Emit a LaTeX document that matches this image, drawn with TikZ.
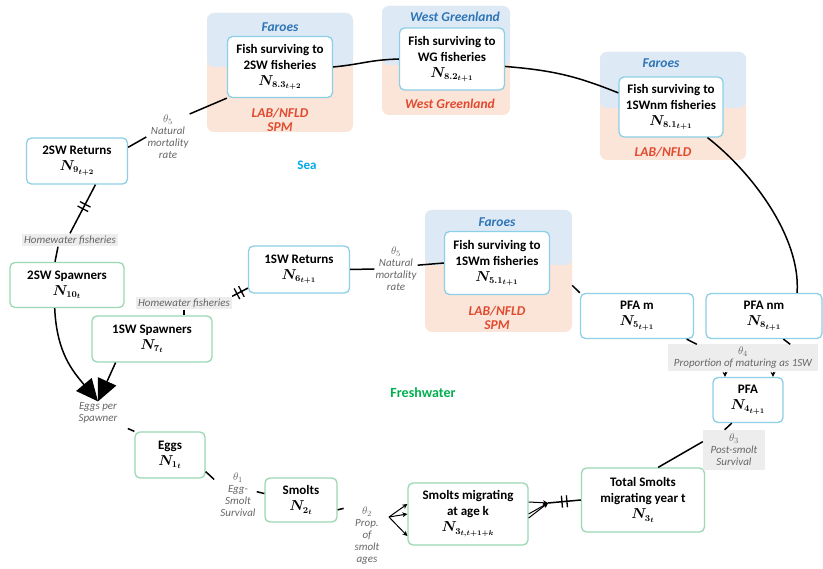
\documentclass[tikz,border=0pt]{standalone}
\usepackage{fontspec}
\setmainfont{Carlito}
\usetikzlibrary{arrows.meta,decorations.markings}
\definecolor{seaedge}{HTML}{8CCFE6}
\definecolor{freshedge}{HTML}{9AD8B4}
\definecolor{seablue}{HTML}{DDEAF6}
\definecolor{seaorange}{HTML}{FBE5D9}
\definecolor{farblue}{HTML}{2E75B6}
\definecolor{labred}{HTML}{E04B2F}
\definecolor{seacyan}{HTML}{00A9E8}
\definecolor{freshgreen}{HTML}{00B050}
\definecolor{tagfill}{HTML}{EDEDED}
\newcommand\popN[1]{{\fontsize{13.5}{15}\selectfont\boldmath$N_{#1}$}}

\begin{document}
\begin{tikzpicture}[x=1pt, y=-1pt,
  box/.style={rounded corners=5pt, draw, line width=1.3pt, fill=white, align=center, inner sep=2pt,
    font=\bfseries\fontsize{13}{16}\selectfont},
  seabox/.style={box, draw=seaedge},
  freshbox/.style={box, draw=freshedge},
  panel/.style={rounded corners=7pt, fill=seaorange,
    path picture={\fill[seablue] (path picture bounding box.north west) rectangle ([yshift=#1]path picture bounding box.east);}},
  farlab/.style={text=farblue, font=\bfseries\itshape\fontsize{13.5}{14}\selectfont},
  lablab/.style={text=labred, align=center, font=\bfseries\itshape\fontsize{13.5}{14}\selectfont},
  rate/.style={text=black!60, align=center, inner sep=1pt, font=\itshape\fontsize{11}{12}\selectfont},
  greytag/.style={rate, fill=tagfill, inner sep=2pt},
  link/.style={line width=1.5pt},
  fan/.style={line width=1pt, -{Stealth[length=5pt,width=5pt]}},
  bigtip/.style={link, -{Triangle[length=22pt,width=20pt]}},
  cutmark/.style={postaction=decorate, decoration={markings, mark=at position #1 with
    {\draw[line width=1.3pt] (-2.5pt,-6pt) -- (-2.5pt,6pt) (2.5pt,-6pt) -- (2.5pt,6pt);}}}]
\useasboundingbox (0,0) rectangle (823,569);

\node[panel=5.5pt, minimum width=146pt, minimum height=119pt] (p1) at (280,72.5) {};
\node[panel=-4.5pt, minimum width=128pt, minimum height=109pt] (p2) at (446,60.5) {};
\node[panel=-2pt, minimum width=146pt, minimum height=108pt] (p3) at (673,106) {};
\node[panel=6pt, minimum width=147pt, minimum height=122pt] (p4) at (498.5,271) {};

\node[farlab] (far1) at (280,27) {Faroes};
\node[lablab] (lab1) at (280,120) {LAB/NFLD\\SPM};
\node[farlab] (far2) at (455,17) {West Greenland};
\node[lablab] (lab2) at (450,104) {West Greenland};
\node[farlab] (far3) at (661,63) {Faroes};
\node[lablab] (lab3) at (663,152) {LAB/NFLD};
\node[farlab] (far4) at (497,222) {Faroes};
\node[lablab] (lab4) at (497,318) {LAB/NFLD\\SPM};

\node[seabox, minimum width=105pt, minimum height=61pt] (f2sw) at (280,67) {Fish surviving to\\2SW fisheries\\\popN{8.3_{t+2}}};
\node[seabox, minimum width=105pt, minimum height=62pt] (fwg) at (452,59) {Fish surviving to\\WG fisheries\\\popN{8.2_{t+1}}};
\node[seabox, minimum width=104pt, minimum height=60pt] (f1snm) at (671,107) {Fish surviving to\\1SWnm fisheries\\\popN{8.1_{t+1}}};
\node[seabox, minimum width=105pt, minimum height=63pt] (f1sm) at (497,263) {Fish surviving to\\1SWm fisheries\\\popN{5.1_{t+1}}};
\node[seabox, minimum width=101pt, minimum height=46pt] (ret2sw) at (77,161) {2SW Returns\\\popN{9_{t+2}}};
\node[freshbox, minimum width=114pt, minimum height=45pt] (spw2sw) at (67,285) {2SW Spawners\\\popN{10_t}};
\node[freshbox, minimum width=120pt, minimum height=46pt] (spw1sw) at (152,339) {1SW Spawners\\\popN{7_t}};
\node[seabox, minimum width=101pt, minimum height=47pt] (ret1sw) at (299,269.5) {1SW Returns\\\popN{6_{t+1}}};
\node[seabox, minimum width=113pt, minimum height=45pt] (pfam) at (637,316) {PFA m\\\popN{5_{t+1}}};
\node[seabox, minimum width=116pt, minimum height=45pt] (pfanm) at (764,316) {PFA nm\\\popN{8_{t+1}}};
\node[seabox, minimum width=70pt, minimum height=45pt] (pfa) at (748,400) {PFA\\\popN{4_{t+1}}};
\node[freshbox, minimum width=123pt, minimum height=64pt] (totsmolt) at (643,500) {Total Smolts\\migrating year t\\\popN{3_t}};
\node[freshbox, minimum width=120pt, minimum height=62pt] (smoltk) at (468,514) {Smolts migrating\\at age k\\\popN{3_{t,t+1+k}}};
\node[freshbox, minimum width=72pt, minimum height=44pt] (smolts) at (301,500) {Smolts\\\popN{2_t}};
\node[freshbox, minimum width=70pt, minimum height=46pt] (eggs) at (170,455) {Eggs\\\popN{1_t}};

\node[rate] (th5a) at (168,137) {$\theta_5$\\Natural\\mortality\\rate};
\node[rate] (th5b) at (396,269) {$\theta_5$\\Natural\\mortality\\rate};
\node[greytag] (hw2) at (70,240) {Homewater fisheries};
\node[greytag] (hw1) at (184,303) {Homewater fisheries};
\node[rate] (epsp) at (98,413) {Eggs per\\Spawner};
\node[rate] (th1) at (238,495) {$\theta_1$\\Egg-\\Smolt\\Survival};
\node[rate] (th2) at (367,536) {$\theta_2$\\Prop.\\of\\smolt\\ages};
\node[greytag, minimum width=62pt, minimum height=40pt] (th3) at (734,450) {$\theta_3$\\Post-smolt\\Survival};
\node[greytag, minimum width=150pt, minimum height=27pt] (th4) at (743,358) {$\theta_4$\\Proportion of maturing as 1SW};
\node[text=seacyan, font=\bfseries\fontsize{13}{14}\selectfont] (sea) at (307,165) {Sea};
\node[text=freshgreen, font=\bfseries\fontsize{14}{14}\selectfont] (fresh) at (423,393) {Freshwater};

\draw[link] (f2sw.south west) -- (th5a.north east);
\draw[link] (th5a.west) -- (ret2sw.15);
\draw[link] (f2sw.east) .. controls +(30,-3) and +(-30,1) .. (fwg.west);
\draw[link] (fwg.-8) .. controls +(50,4) and +(-40,-16) .. (f1snm.165);
\draw[link] (f1snm.-40) .. controls +(45,35) and +(4,-55) .. (pfanm.35);
\draw[link] (p4.-11) -- (pfam.north west);
\draw[link] (th5b.10) -- (f1sm.west);
\draw[link] (ret1sw.east) -- (th5b.west);
\draw[link, cutmark=0.55] (ret1sw.200) -- (hw1.north east);
\draw[link] (hw1.south) -- (spw1sw.north -| hw1.south);
\draw[link, cutmark=0.45] (ret2sw.-52) -- (hw2.north);
\draw[link] ([xshift=-12pt]hw2.south) -- ([xshift=-12pt]spw2sw.north);
\draw[bigtip] (spw2sw.-118) .. controls +(2,45) and +(-25,-30) .. (epsp.north);
\draw[bigtip] (spw1sw.-147) -- (epsp.north);
\draw[link, shorten <=10pt] (epsp.south east) -- (eggs.north west);
\draw[link, shorten >=7pt] (eggs.-25) -- (th1.150);
\draw[link] (th1.10) -- (smolts.170);
\draw[link, shorten >=10pt] (smolts.-15) -- (th2.north west);
\coordinate (fanL) at (389,517);
\draw[fan] (fanL) -- ([yshift=10pt]smoltk.west);
\draw[fan] (fanL) -- (smoltk.west);
\draw[fan] (fanL) -- ([yshift=-22pt]smoltk.west);
\coordinate (fanR) at (548,503);
\draw[fan] ([yshift=12pt]smoltk.east) -- (fanR);
\draw[fan] (smoltk.east) -- (fanR);
\draw[fan] ([yshift=-4pt]smoltk.east) -- (fanR);
\draw[link, cutmark=0.5] (fanR) -- (totsmolt.west);
\draw[link] (totsmolt.65) -- (th3.165);
\draw[link] (th3.115) -- (pfa.235);
\draw[fan] ([xshift=-18pt]th4.south) -- ([xshift=-23pt]pfa.north);
\draw[fan] ([xshift=30pt]th4.south) -- ([xshift=25pt]pfa.north);
\draw[link] (pfam.-25) -- ([xshift=29pt]th4.north west);
\draw[link] (pfanm.-50) -- ([xshift=-28pt]th4.north east);
\end{tikzpicture}
\end{document}
